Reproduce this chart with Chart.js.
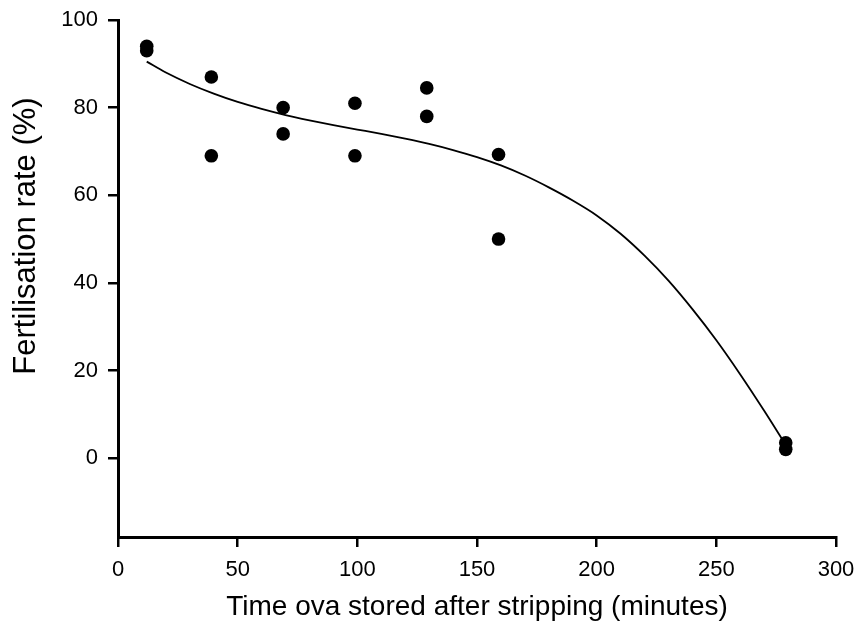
<!DOCTYPE html>
<html>
<head>
<meta charset="utf-8">
<script src="https://cdn.jsdelivr.net/npm/chart.js@4.4.1/dist/chart.umd.min.js"></script>
<style>
  html, body { margin: 0; padding: 0; background: #ffffff; }
  #wrap { width: 860px; height: 644px; }
</style>
</head>
<body>
<div id="wrap"><canvas id="c" width="860" height="644"></canvas></div>
<script>
// Observed data points
const obsX = [12, 12, 39, 39, 69, 69, 99, 99, 129, 129, 159, 159, 279, 279];
const obsY = [93, 94, 87, 69, 80, 74, 81, 69, 84.5, 78, 69.3, 50, 2, 3.5];

// Fitted curve
const fitX = [12, 20, 30, 40, 50, 60, 70, 80, 90, 100, 110, 120, 130, 140, 150, 160, 170, 180, 190, 200, 210, 220, 230, 240, 250, 260, 270, 279];
const fitY = [90.5, 88.0, 85.4, 83.2, 81.3, 79.7, 78.3, 77.1, 76.0, 75.0, 74.0, 72.9, 71.7, 70.3, 68.7, 66.8, 64.5, 61.8, 58.8, 55.4, 51.2, 46.2, 40.5, 34.0, 26.9, 19.1, 10.8, 3.0];

// Tick labels and titles
const xTicks = [0, 50, 100, 150, 200, 250, 300];
const yTicks = [0, 20, 40, 60, 80, 100];
const xTitle = 'Time ova stored after stripping (minutes)';
const yTitle = 'Fertilisation rate (%)';

const FONT = "'Liberation Sans', Arial, sans-serif";

const obsData = obsX.map((x, i) => ({ x: x, y: obsY[i] }));
const fitData = fitX.map((x, i) => ({ x: x, y: fitY[i] }));

const titlePlugin = {
  id: 'axisTitles',
  afterDraw(chart) {
    const ctx = chart.ctx;
    const ca = chart.chartArea;
    ctx.save();
    ctx.fillStyle = '#000000';
    ctx.textAlign = 'center';
    ctx.textBaseline = 'middle';
    ctx.font = "28px " + FONT;
    ctx.fillText(xTitle, (ca.left + ca.right) / 2, 607);
    ctx.translate(26, 236);
    ctx.rotate(-Math.PI / 2);
    ctx.font = "31px " + FONT;
    ctx.fillText(yTitle, 0, 0);
    ctx.restore();
  }
};

new Chart(document.getElementById('c'), {
  type: 'scatter',
  data: {
    datasets: [
      {
        data: fitData,
        showLine: true,
        borderColor: '#000000',
        borderWidth: 1.8,
        pointRadius: 0,
        cubicInterpolationMode: 'monotone',
        fill: false,
        order: 2
      },
      {
        data: obsData,
        showLine: false,
        backgroundColor: '#000000',
        borderColor: '#000000',
        pointRadius: 6.8,
        pointBorderWidth: 0,
        order: 1
      }
    ]
  },
  plugins: [titlePlugin],
  options: {
    responsive: false,
    animation: false,
    devicePixelRatio: 1,
    layout: { padding: { top: 20, right: 24, left: 0, bottom: 0 } },
    plugins: { legend: { display: false }, tooltip: { enabled: false } },
    scales: {
      x: {
        type: 'linear',
        min: 0, max: 300,
        afterBuildTicks: (s) => { s.ticks = xTicks.map(v => ({ value: v })); },
        afterFit: (s) => { s.height = 107; s.paddingLeft = 0; s.paddingRight = 0; },
        border: { display: true, color: '#000000', width: 3 },
        grid: { drawOnChartArea: false, drawTicks: true, tickLength: 10, color: '#000000', lineWidth: 2.5 },
        ticks: { color: '#000000', font: { family: FONT, size: 22 }, padding: 10, maxRotation: 0 }
      },
      y: {
        type: 'linear',
        min: -18, max: 100,
        afterBuildTicks: (s) => { s.ticks = yTicks.map(v => ({ value: v })); },
        afterFit: (s) => { s.width = 118; s.paddingTop = 0; s.paddingBottom = 0; },
        border: { display: true, color: '#000000', width: 3 },
        grid: { drawOnChartArea: false, drawTicks: true, tickLength: 10, color: '#000000', lineWidth: 2.5 },
        ticks: { color: '#000000', font: { family: FONT, size: 22 }, padding: 10 }
      }
    }
  }
});
</script>
</body>
</html>
